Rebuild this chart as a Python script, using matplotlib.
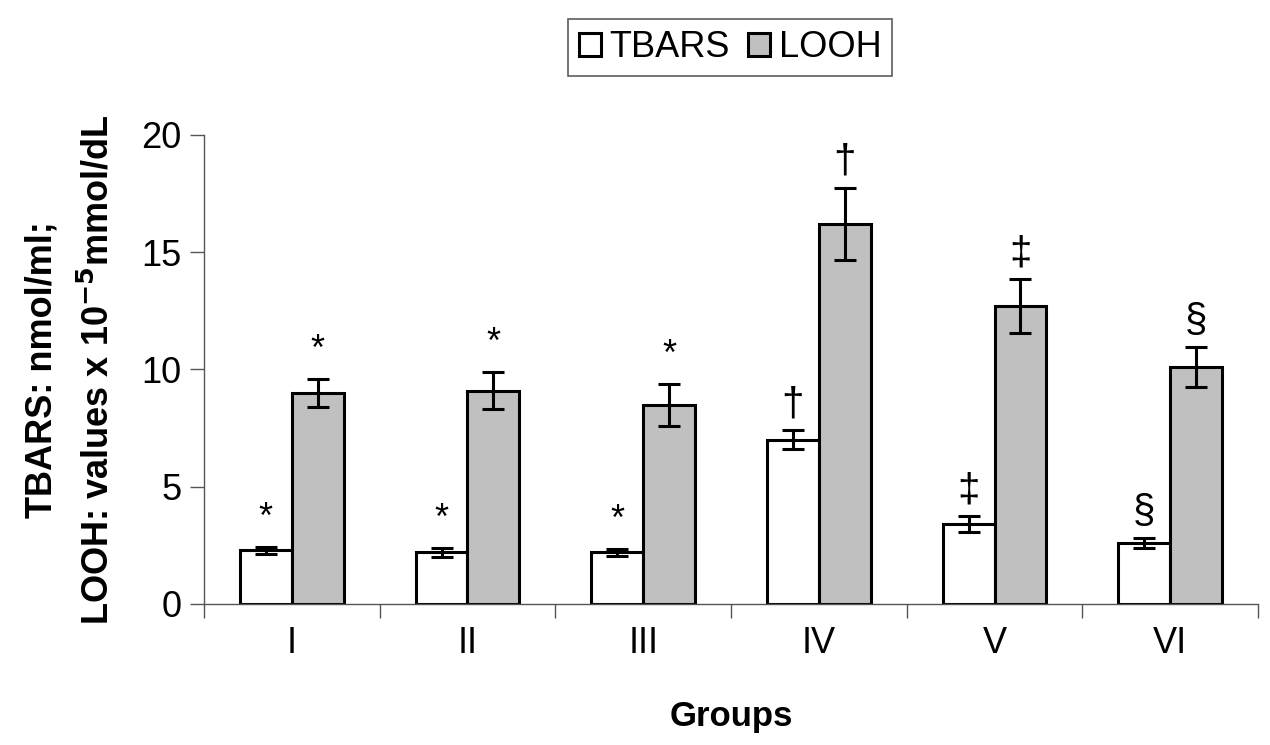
import matplotlib.pyplot as plt
import numpy as np

plt.rcParams['font.family'] = ['Liberation Sans', 'DejaVu Sans']

groups = ['I', 'II', 'III', 'IV', 'V', 'VI']
tbars = [2.3, 2.2, 2.2, 7.0, 3.4, 2.6]
tbars_err = [0.15, 0.2, 0.15, 0.4, 0.35, 0.2]
looh = [9.0, 9.1, 8.5, 16.2, 12.7, 10.1]
looh_err = [0.6, 0.8, 0.9, 1.55, 1.15, 0.85]
tbars_marks = ['*', '*', '*', '\u2020', '\u2021', '\u00a7']
looh_marks = ['*', '*', '*', '\u2020', '\u2021', '\u00a7']

fig = plt.figure(figsize=(12.7, 7.45), dpi=100)
ax = fig.add_axes([0.1606, 0.1893, 0.83, 0.6295])

x = np.arange(len(groups))
w = 0.295
err_kw = dict(ecolor='black', elinewidth=2.2, capsize=8, capthick=2.2)
b1 = ax.bar(x - w / 2, tbars, w, yerr=tbars_err, color='white', edgecolor='black',
            linewidth=2.2, error_kw=err_kw, label='TBARS')
b2 = ax.bar(x + w / 2, looh, w, yerr=looh_err, color='#c0c0c0', edgecolor='black',
            linewidth=2.2, error_kw=err_kw, label='LOOH')

for i in range(len(groups)):
    for xs, v, e, m in [(x[i] - w / 2, tbars[i], tbars_err[i], tbars_marks[i]),
                        (x[i] + w / 2, looh[i], looh_err[i], looh_marks[i])]:
        if m == '*':
            ax.text(xs, v + e + 0.45, m, ha='center', va='bottom', fontsize=26)
        else:
            ax.text(xs, v + e + 0.3, m, ha='center', va='bottom', fontsize=29)

ax.set_xlim(-0.5, len(groups) - 0.5)
ax.set_ylim(0, 20)
ax.set_yticks([0, 5, 10, 15, 20])
ax.set_xticks(x)
ax.set_xticklabels(groups)
ax.set_xticks(np.arange(len(groups) + 1) - 0.5, minor=True)
ax.tick_params(axis='x', which='major', length=0, pad=16, labelsize=26)
ax.tick_params(axis='x', which='minor', length=10, width=1, color='#555555')
ax.tick_params(axis='y', length=10, width=1, color='#555555', labelsize=26, pad=6)
for s in ['top', 'right']:
    ax.spines[s].set_visible(False)
for s in ['left', 'bottom']:
    ax.spines[s].set_color('#555555')
    ax.spines[s].set_linewidth(1)

ax.set_xlabel('Groups', fontsize=25, fontweight='bold', labelpad=28)
ax.set_ylabel('TBARS: nmol/ml;\nLOOH: values x 10$^{\\mathbf{-5}}$mmol/dL', fontsize=26,
              fontweight='bold', labelpad=18, linespacing=1.75)

leg = fig.legend(handles=[b1, b2], loc='center', bbox_to_anchor=(0.575, 0.936), ncol=2,
                 fontsize=26, frameon=True, fancybox=False, edgecolor='#333333',
                 handlelength=0.6, handleheight=0.6, handletextpad=0.25, columnspacing=0.5,
                 borderpad=0.3)
leg.get_frame().set_linewidth(1.2)

fig.savefig('out.png', dpi=100)
